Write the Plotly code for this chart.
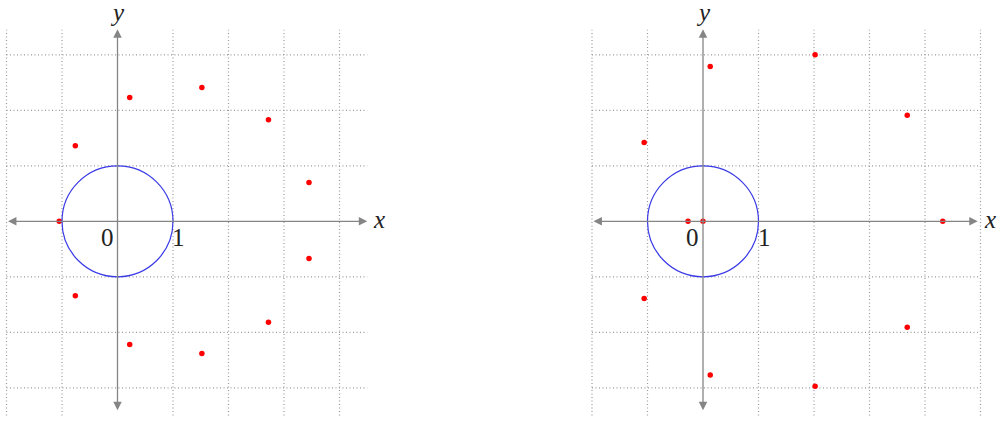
import plotly.graph_objects as go

# --- data ---
left_x = [-1.05, -0.76, 0.22, 1.52, 2.72, 3.45, 3.45, 2.72, 1.52, 0.22, -0.76]
left_y = [0.0, 1.36, 2.23, 2.41, 1.83, 0.70, -0.67, -1.82, -2.38, -2.22, -1.34]

right_x = [-0.27, 0.0, 0.13, -1.06, 2.02, 3.68, 4.32, 3.68, 2.02, 0.13, -1.06]
right_y = [0.0, 0.0, 2.79, 1.42, 3.00, 1.91, 0.0, -1.91, -2.97, -2.77, -1.39]

tick_values = [0, 1]
tick_labels = ["0", "1"]
circle_radius = 1

# grid / axis extents for each panel
left_grid_x = [-2, -1, 0, 1, 2, 3, 4]
right_grid_x = [-2, -1, 0, 1, 2, 3, 4, 5]
grid_y = [-3, -2, -1, 0, 1, 2, 3]
left_xlim = (-2.0, 4.5)
right_xlim = (-2.0, 5.0)
right_axis_end = 4.95
grid_ylim = (-3.5, 3.45)
axis_ylim = (-3.43, 3.46)

# --- pixel geometry ---
W, H = 997, 422
UNIT = 55.5
OY = 221.3
LEFT_OX, RIGHT_OX = 117.5, 703.0
SPLIT = 0.5

GRID_COL = "#9a9a9a"
AXIS_COL = "#858585"
DOT_COL = "#ff0000"
CIRCLE_COL = "#3a3ae6"
TEXT_COL = "#222222"
FONT = "Liberation Serif, serif"
GRID_DASH = "1px,2.5px"

fig = go.Figure()

panels = [
    ("x", left_x, left_y, left_grid_x, left_xlim, left_xlim[1]),
    ("x2", right_x, right_y, right_grid_x, right_xlim, right_axis_end),
]

for xref, px, py, gx, xlim, xend in panels:
    # dotted grid
    for g in gx:
        if g == 0:
            continue
        fig.add_shape(type="line", xref=xref, yref="y", x0=g, x1=g,
                      y0=grid_ylim[0], y1=grid_ylim[1],
                      line=dict(color=GRID_COL, width=1.2, dash=GRID_DASH), layer="below")
    for g in grid_y:
        if g == 0:
            continue
        fig.add_shape(type="line", xref=xref, yref="y", x0=xlim[0], x1=xlim[1],
                      y0=g, y1=g,
                      line=dict(color=GRID_COL, width=1.2, dash=GRID_DASH), layer="below")

    # axes with arrows at both ends
    fig.add_annotation(x=xend, y=0, ax=xlim[0], ay=0, xref=xref, yref="y",
                       axref=xref, ayref="y", text="", showarrow=True,
                       arrowside="end+start", arrowhead=2, arrowsize=1.3,
                       arrowwidth=1.3, arrowcolor=AXIS_COL)
    fig.add_annotation(x=0, y=axis_ylim[1], ax=0, ay=axis_ylim[0], xref=xref, yref="y",
                       axref=xref, ayref="y", text="", showarrow=True,
                       arrowside="end+start", arrowhead=2, arrowsize=1.3,
                       arrowwidth=1.3, arrowcolor=AXIS_COL)

    # unit circle
    fig.add_shape(type="circle", xref=xref, yref="y",
                  x0=-circle_radius, x1=circle_radius,
                  y0=-circle_radius, y1=circle_radius,
                  line=dict(color=CIRCLE_COL, width=1.2))

    # points
    fig.add_trace(go.Scatter(x=px, y=py, mode="markers", xaxis=xref, yaxis="y",
                             marker=dict(color=DOT_COL, size=5.5, line=dict(width=0)),
                             showlegend=False, hoverinfo="skip"))

    # tick labels 0 and 1
    for v, lab in zip(tick_values, tick_labels):
        fig.add_annotation(x=v, y=0, xref=xref, yref="y", text=lab, showarrow=False,
                           xanchor="center", yanchor="middle",
                           xshift=-10.5 if v == 0 else 5.5, yshift=-16,
                           font=dict(family=FONT, size=25, color=TEXT_COL))

    # axis names
    fig.add_annotation(x=xend, y=0, xref=xref, yref="y", text="<i>x</i>",
                       showarrow=False, xanchor="center", yanchor="middle",
                       xshift=12, yshift=2,
                       font=dict(family=FONT, size=25, color=TEXT_COL))
    fig.add_annotation(x=0, y=axis_ylim[1], xref=xref, yref="y", text="<i>y</i>",
                       showarrow=False, xanchor="center", yanchor="middle",
                       yshift=17,
                       font=dict(family=FONT, size=25, color=TEXT_COL))

split_px = SPLIT * W
hidden = dict(visible=False, showgrid=False, zeroline=False, fixedrange=True)
fig.update_layout(
    width=W, height=H,
    margin=dict(l=0, r=0, t=0, b=0),
    paper_bgcolor="white", plot_bgcolor="white",
    xaxis=dict(domain=[0, SPLIT], anchor="y",
               range=[(0 - LEFT_OX) / UNIT, (split_px - LEFT_OX) / UNIT], **hidden),
    xaxis2=dict(domain=[SPLIT, 1], anchor="y",
                range=[(split_px - RIGHT_OX) / UNIT, (W - RIGHT_OX) / UNIT], **hidden),
    yaxis=dict(domain=[0, 1], range=[-(H - OY) / UNIT, OY / UNIT], **hidden),
    showlegend=False,
)

# the page body has a default 8px margin; remove it so the figure sits at (0, 0)
fig.write_html("out.html", config={"displayModeBar": False},
               post_script="document.body.style.margin='0';document.body.style.overflow='hidden';")
